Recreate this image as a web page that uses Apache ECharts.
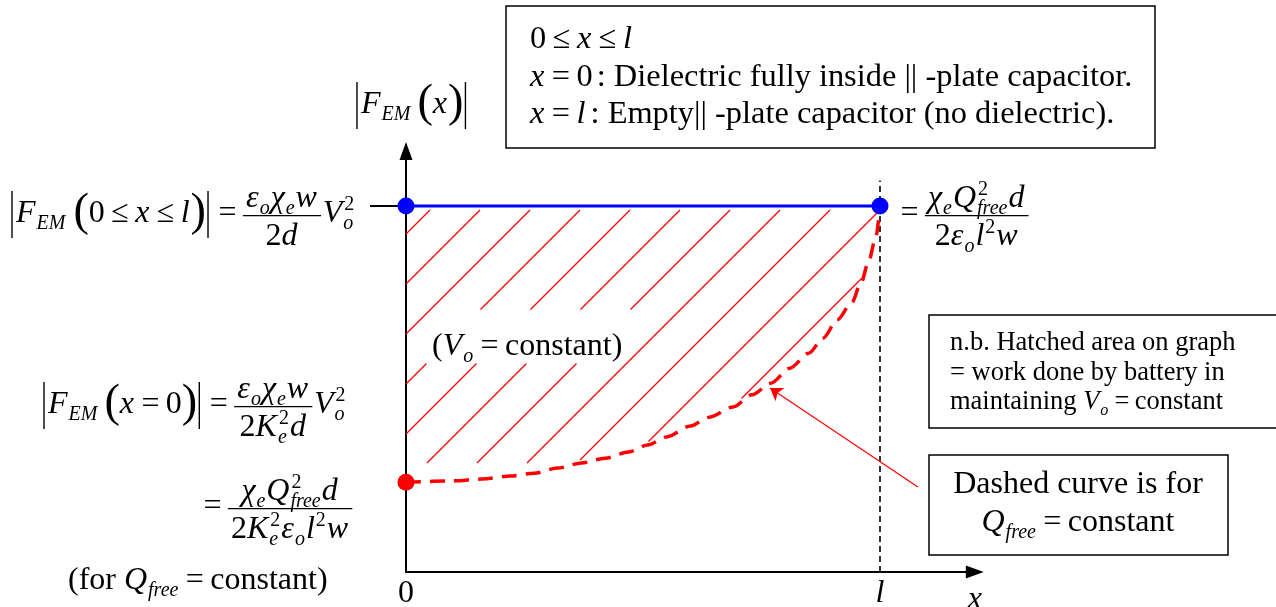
<!DOCTYPE html>
<html>
<head>
<meta charset="utf-8">
<script src="https://cdn.jsdelivr.net/npm/echarts@6/dist/echarts.min.js"></script>
<style>
  html, body { margin: 0; padding: 0; background: #fff; }
  #chart { width: 1276px; height: 607px; }
</style>
</head>
<body>
<div id="chart"></div>
<script>
// Force on the dielectric vs. insertion coordinate.
// x is measured in units of the plate length l, |F_EM| in units of the constant-V_o force.
const vConstX = [0, 1];
const vConstF = [1, 1];

// Constant-Q_free force: rises from 1/K_e^2 at x = 0 up to the V_o value at x = l
const qFreeX = [0, 0.10, 0.16, 0.22, 0.27, 0.32, 0.37, 0.42, 0.47, 0.51, 0.55, 0.60, 0.64,
                0.69, 0.73, 0.77, 0.81, 0.85, 0.88, 0.91, 0.94, 0.96, 0.975, 0.99, 1.0];
const qFreeF = [0.245, 0.249, 0.254, 0.262, 0.270, 0.284, 0.298, 0.311, 0.328, 0.347, 0.369, 0.399, 0.423,
                0.451, 0.484, 0.516, 0.557, 0.598, 0.639, 0.689, 0.735, 0.790, 0.844, 0.907, 1.0];

// Edge of the capacitor (x = l), dashed guide
const edgeX = [1, 1];
const edgeF = [0, 1.07];

// Axis ticks
const xTickValues = [0, 1];
const xTickLabels = ['0', 'l'];
const yTickValues = [1];

// Pointer from the note box onto the dashed curve
const pointerFrom = [1.08, 0.232];
const pointerTo = [0.768, 0.503];

const X_MAX = 1.2;
const Y_MAX = 1.15;

// ---------- simple math typesetting on top of zrender text ----------
const SERIF = '"Liberation Serif", "Times New Roman", serif';
const mctx = document.createElement('canvas').getContext('2d');
function fnt(st, size) { return (st === 'i' ? 'italic ' : '') + size + 'px ' + SERIF; }
function tw(text, st, size) { mctx.font = fnt(st, size); return mctx.measureText(text).width; }
function txt(out, x, base, text, st, size) {
  out.push({
    type: 'text', silent: true, z: 20,
    style: {
      x: x, y: base - 0.32 * size, text: text, font: fnt(st, size), fill: '#000',
      align: 'left', verticalAlign: 'middle', textAlign: 'left', textVerticalAlign: 'middle'
    }
  });
}
function seg(x1, y1, x2, y2, w) {
  return { type: 'line', silent: true, z: 20, shape: { x1: x1, y1: y1, x2: x2, y2: y2 },
           style: { stroke: '#000', lineWidth: w } };
}
// lays out a token list; with out === null only measures
function math(items, x0, base, size, out) {
  let x = x0;
  const ss = Math.round(size * 0.62);
  items.forEach(function (it) {
    const k = it[0];
    if (k === 'sp') {
      x += it[1];
    } else if (k === 'i' || k === 'r') {
      if (out) txt(out, x, base, it[1], k, size);
      x += tw(it[1], k, size) + (k === 'i' ? size * 0.03 : 0);
    } else if (k === 'rel') {
      x += size * 0.2;
      if (out) txt(out, x, base, it[1], 'r', size);
      x += tw(it[1], 'r', size) + size * 0.2;
    } else if (k === 'sub') {
      if (out) txt(out, x, base + size * 0.2, it[1], 'i', ss);
      x += tw(it[1], 'i', ss) + 1;
    } else if (k === 'sup') {
      if (out) txt(out, x, base - size * 0.4, it[1], 'r', ss);
      x += tw(it[1], 'r', ss) + 1;
    } else if (k === 'ss') {
      if (out) {
        txt(out, x, base + size * 0.2, it[1], 'i', ss);
        txt(out, x + 1, base - size * 0.4, it[2], 'r', ss);
      }
      x += Math.max(tw(it[1], 'i', ss), tw(it[2], 'r', ss) + 1) + 1;
    } else if (k === 'big') {
      const bs = size * 1.45;
      if (out) txt(out, x, base + size * 0.13, it[1], 'r', bs);
      x += tw(it[1], 'r', bs);
    } else if (k === 'bar') {
      x += 2;
      if (out) out.push(seg(x, base - size * 1.03, x, base + size * 0.44, 1.4));
      x += 4;
    } else if (k === 'frac') {
      const nw = math(it[1], 0, 0, size, null);
      const dw = math(it[2], 0, 0, size, null);
      const w = Math.max(nw, dw) + size * 0.2;
      const barY = base - size * 0.26;
      if (out) {
        out.push(seg(x, barY, x + w, barY, 1.3));
        math(it[1], x + (w - nw) / 2, barY - size * 0.22, size, out);
        math(it[2], x + (w - dw) / 2, barY + size * 0.97, size, out);
      }
      x += w + size * 0.05;
    }
  });
  return x - x0;
}
function mathCentered(items, cx, base, size, out) {
  const w = math(items, 0, 0, size, null);
  math(items, cx - w / 2, base, size, out);
}

const NUM_EPS = [['i', 'ε'], ['sub', 'o'], ['i', 'χ'], ['sub', 'e'], ['i', 'w']];
const NUM_Q = [['i', 'χ'], ['sub', 'e'], ['i', 'Q'], ['ss', 'free', '2'], ['i', 'd']];

const G = [];
// |F_EM(x)| axis title
math([['bar'], ['i', 'F'], ['sub', 'EM'], ['sp', 6], ['big', '('], ['i', 'x'], ['big', ')'], ['bar']],
     355, 115, 32, G);
// force at constant V_o
math([['bar'], ['i', 'F'], ['sub', 'EM'], ['sp', 7], ['big', '('], ['r', '0'], ['rel', '≤'], ['i', 'x'],
      ['rel', '≤'], ['i', 'l'], ['big', ')'], ['bar'], ['rel', '='],
      ['frac', NUM_EPS, [['r', '2'], ['i', 'd']]], ['i', 'V'], ['ss', 'o', '2']],
     10, 224, 32, G);
math([['rel', '='], ['frac', NUM_Q, [['r', '2'], ['i', 'ε'], ['sub', 'o'], ['i', 'l'], ['sup', '2'], ['i', 'w']]]],
     894, 224, 32, G);
// force at x = 0 with constant charge
math([['bar'], ['i', 'F'], ['sub', 'EM'], ['sp', 6], ['big', '('], ['i', 'x'], ['rel', '='], ['r', '0'],
      ['big', ')'], ['bar'], ['rel', '='],
      ['frac', NUM_EPS, [['r', '2'], ['i', 'K'], ['ss', 'e', '2'], ['i', 'd']]], ['i', 'V'], ['ss', 'o', '2']],
     42, 415, 32, G);
math([['rel', '='], ['frac', NUM_Q, [['r', '2'], ['i', 'K'], ['ss', 'e', '2'], ['i', 'ε'], ['sub', 'o'],
      ['i', 'l'], ['sup', '2'], ['i', 'w']]]],
     197, 517, 32, G);
math([['r', '(for '], ['i', 'Q'], ['sub', 'free'], ['rel', '='], ['r', 'constant)']], 68, 591, 32, G);
// label inside the hatched region
math([['r', '('], ['i', 'V'], ['sub', 'o'], ['rel', '='], ['r', 'constant)']], 432, 357, 32, G);

// definition box
G.push({ type: 'rect', silent: true, z: 19, shape: { x: 506, y: 6, width: 649, height: 142 },
         style: { fill: 'none', stroke: '#000', lineWidth: 1.5 } });
math([['r', '0'], ['rel', '≤'], ['i', 'x'], ['rel', '≤'], ['i', 'l']], 530, 50, 32.4, G);
math([['i', 'x'], ['rel', '='], ['r', '0'], ['sp', 4], ['r', ': Dielectric fully inside || -plate capacitor.']], 530, 88, 32.4, G);
math([['i', 'x'], ['rel', '='], ['i', 'l'], ['sp', 4], ['r', ': Empty|| -plate capacitor (no dielectric).']], 530, 125, 32.4, G);

// note box
G.push({ type: 'rect', silent: true, z: 19, shape: { x: 929, y: 315, width: 360, height: 113 },
         style: { fill: 'none', stroke: '#000', lineWidth: 1.5 } });
math([['r', 'n.b. Hatched area on graph']], 950, 352, 26.5, G);
math([['r', '= work done by battery in']], 950, 382, 26.5, G);
math([['r', 'maintaining '], ['i', 'V'], ['sub', 'o'], ['rel', '='], ['r', 'constant']], 950, 411, 26.5, G);

// dashed-curve box
G.push({ type: 'rect', silent: true, z: 19, shape: { x: 929, y: 455, width: 299, height: 100 },
         style: { fill: 'none', stroke: '#000', lineWidth: 1.5 } });
mathCentered([['r', 'Dashed curve is for']], 1078, 495, 32, G);
mathCentered([['i', 'Q'], ['sub', 'free'], ['rel', '='], ['r', 'constant']], 1078, 533, 32, G);

// hatching between the V_o line and the Q_free curve
const HATCH = {
  gap: 50, offset: 4, topInset: 4, curveInset: 3, floor: 19,
  box: [430, 320, 626, 358],   // text kept clear of hatching
  cut: [310, 363]
};
function renderHatch(params, api) {
  const pts = qFreeX.map(function (x, i) { return api.coord([x, qFreeF[i]]); });
  const left = api.coord([vConstX[0], vConstF[0]]);
  const right = api.coord([vConstX[1], vConstF[1]]);
  const topY = left[1] + HATCH.topInset;
  const floorY = pts[0][1] - HATCH.floor;
  function curveY(px) {
    for (let i = 1; i < pts.length; i++) {
      if (px <= pts[i][0]) {
        const a = pts[i - 1], b = pts[i];
        const t = (px - a[0]) / ((b[0] - a[0]) || 1);
        return a[1] + t * (b[1] - a[1]);
      }
    }
    return pts[pts.length - 1][1];
  }
  const c0 = right[0] + right[1] + HATCH.offset;
  const runs = [];
  for (let k = -9; k <= 1; k++) {
    const c = c0 + k * HATCH.gap;
    const hits = c - HATCH.box[3] <= HATCH.box[2] && c - HATCH.box[1] >= HATCH.box[0];
    let run = null;
    for (let x = left[0]; x <= right[0] + 0.01; x += 0.5) {
      const y = c - x;
      let ok = y >= topY && y <= Math.min(curveY(x) - HATCH.curveInset, floorY);
      if (ok && hits && y >= HATCH.cut[0] && y <= HATCH.cut[1]) ok = false;
      if (ok) {
        if (!run) run = [x, y, x, y]; else { run[2] = x; run[3] = y; }
      } else if (run) { runs.push(run); run = null; }
    }
    if (run) runs.push(run);
  }
  return {
    type: 'group',
    children: runs.filter(function (r) { return r[2] - r[0] > 1; }).map(function (r) {
      return { type: 'line', shape: { x1: r[0], y1: r[1], x2: r[2], y2: r[3] },
               style: { stroke: '#ff0000', lineWidth: 1.3 } };
    })
  };
}

const chart = echarts.init(document.getElementById('chart'), null, { renderer: 'canvas' });
chart.setOption({
  animation: false,
  backgroundColor: '#ffffff',
  grid: { left: 406, top: 572 - 366 * Y_MAX, width: 474 * X_MAX, height: 366 * Y_MAX,
          containLabel: false, outerBoundsMode: 'none' },
  xAxis: {
    type: 'value', min: 0, max: X_MAX, interval: 1,
    axisLine: { onZero: false, symbol: ['none', 'triangle'], symbolSize: [13, 18],
                lineStyle: { color: '#000', width: 2 } },
    axisTick: { show: false },
    splitLine: { show: false },
    axisLabel: {
      customValues: xTickValues, margin: 6, color: '#000',
      formatter: function (v) {
        const i = xTickValues.indexOf(v);
        if (i < 0) return '';
        return (i === 0 ? '{r|' : '{i|') + xTickLabels[i] + '}';
      },
      rich: {
        r: { fontFamily: SERIF, fontSize: 32, color: '#000' },
        i: { fontFamily: SERIF, fontSize: 32, fontStyle: 'italic', color: '#000' }
      }
    },
    name: 'x', nameLocation: 'end', nameGap: 0,
    nameTextStyle: { fontFamily: SERIF, fontSize: 32, fontStyle: 'italic', color: '#000',
                     align: 'center', verticalAlign: 'top', padding: [12, 0, 0, 0] }
  },
  yAxis: {
    type: 'value', min: 0, max: Y_MAX, interval: 1,
    axisLine: { onZero: false, symbol: ['none', 'triangle'], symbolSize: [13, 18],
                lineStyle: { color: '#000', width: 2 } },
    axisTick: { show: true, customValues: yTickValues, length: 36, lineStyle: { color: '#000', width: 2 } },
    splitLine: { show: false },
    axisLabel: { show: false }
  },
  graphic: { elements: G },
  series: [
    {
      type: 'custom', name: 'hatch', z: 2, silent: true, clip: false,
      renderItem: renderHatch, data: [[0, 0]]
    },
    {
      type: 'line', name: 'edge', z: 3, silent: true, symbol: 'none',
      data: edgeX.map(function (x, i) { return [x, edgeF[i]]; }),
      lineStyle: { color: '#000', width: 1.6, type: [6, 4] }
    },
    {
      type: 'line', name: 'Q_free constant', z: 4, silent: true,
      data: qFreeX.map(function (x, i) { return [x, qFreeF[i]]; }),
      smooth: 0.3, smoothMonotone: 'x',
      symbol: 'circle', showSymbol: true, showAllSymbol: true,
      symbolSize: function (v, p) { return p.dataIndex === 0 ? 17 : 0; },
      itemStyle: { color: '#ff0000' },
      lineStyle: { color: '#ff0000', width: 3.5, type: [15, 9] }
    },
    {
      type: 'line', name: 'V_o constant', z: 5, silent: true,
      data: vConstX.map(function (x, i) { return [x, vConstF[i]]; }),
      symbol: 'circle', symbolSize: 17,
      itemStyle: { color: '#0000ff' },
      lineStyle: { color: '#0000ff', width: 3 }
    },
    {
      type: 'lines', name: 'pointer', coordinateSystem: 'cartesian2d', z: 6, silent: true,
      symbol: ['none', 'arrow'], symbolSize: 12,
      lineStyle: { color: '#ff0000', width: 1.2, opacity: 1 },
      data: [{ coords: [pointerFrom, pointerTo] }]
    }
  ]
});
</script>
</body>
</html>
